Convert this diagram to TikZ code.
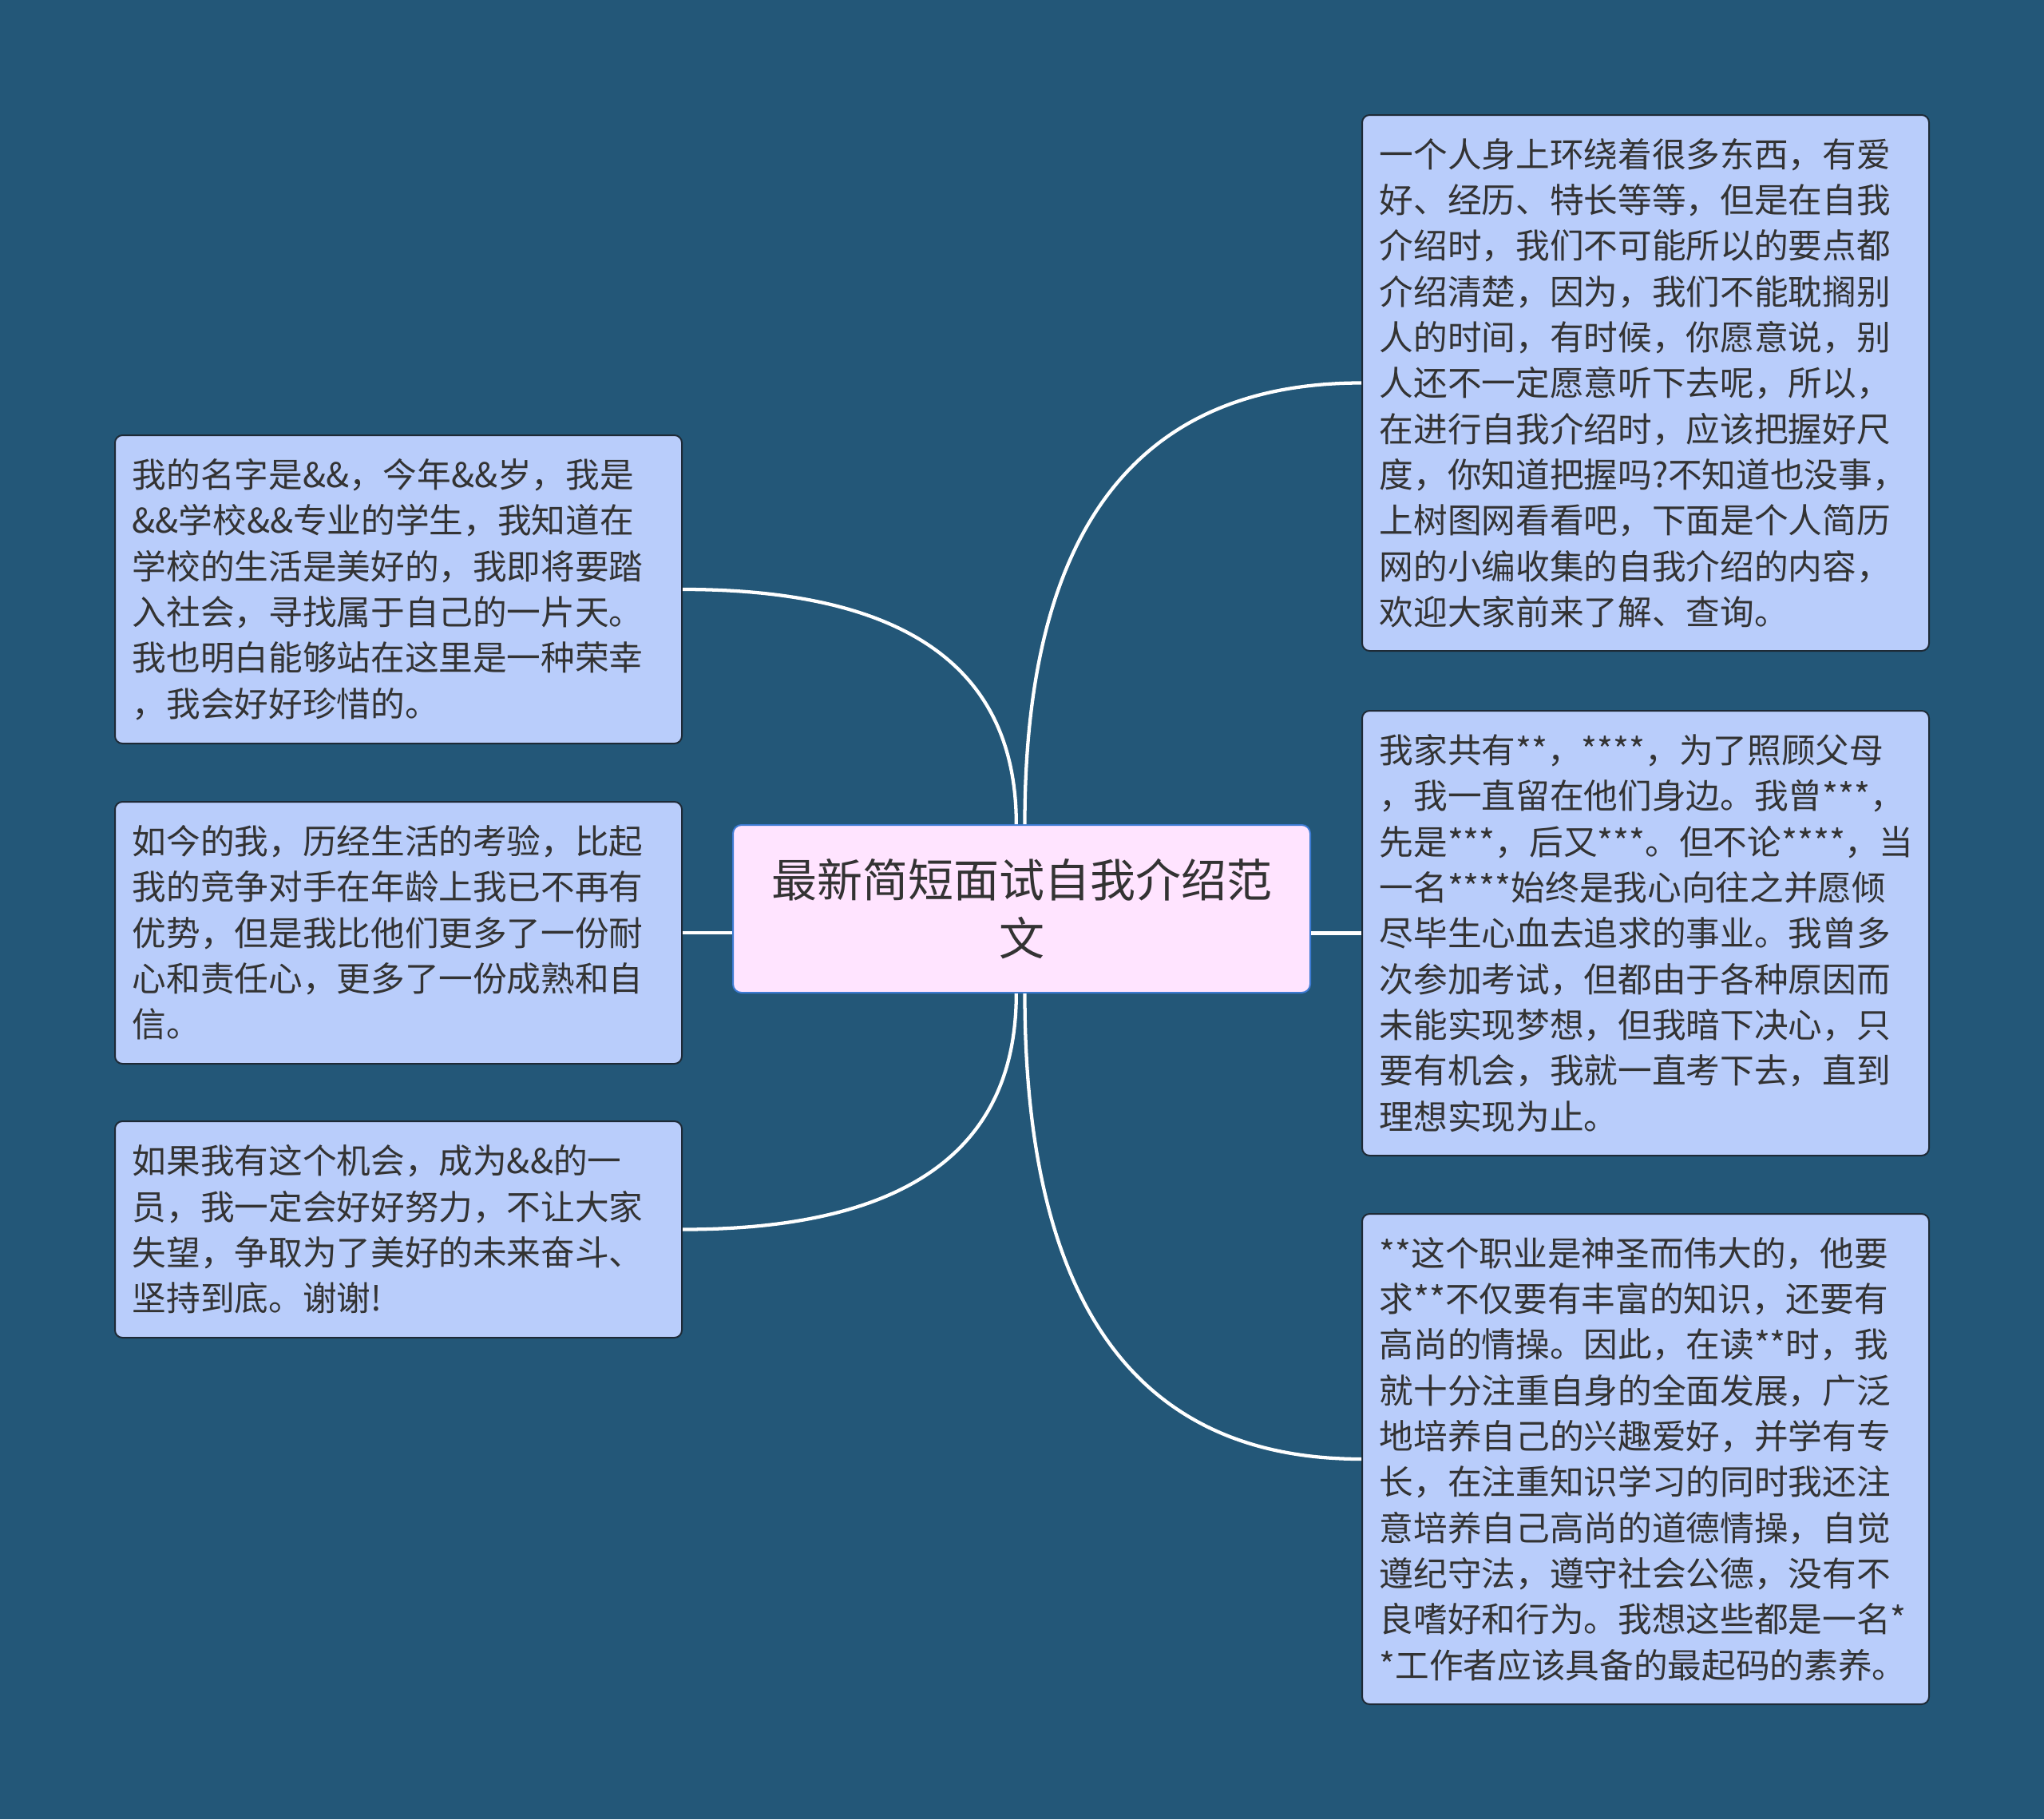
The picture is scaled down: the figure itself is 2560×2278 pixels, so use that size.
\documentclass[tikz,border=0pt]{standalone}
\usepackage{fontspec}
\usetikzlibrary{calc}
\setmainfont{Noto Sans CJK SC}
\definecolor{bg}{HTML}{235778}
\definecolor{boxfill}{HTML}{B9CDFB}
\definecolor{boxline}{HTML}{1E2A36}
\definecolor{ctrfill}{HTML}{FFE4FF}
\definecolor{ctrline}{HTML}{3C7AD2}
\definecolor{txt}{HTML}{333333}
\tikzset{
  leaf/.style={draw=boxline, line width=1.5pt, fill=boxfill, rounded corners=7pt,
    minimum width=532.5pt, text width=500pt, inner xsep=16pt, inner ysep=0pt,
    align=left, text=txt, font=\fontsize{32pt}{43pt}\selectfont},
  centre/.style={draw=ctrline, line width=1.5pt, fill=ctrfill, rounded corners=8pt,
    minimum width=542.25pt, minimum height=157.5pt, text width=520pt, align=center,
    text=txt, font=\fontsize{42.75pt}{55pt}\selectfont},
  conn/.style={draw=white, line width=3.2pt}
}
\begin{document}
\begin{tikzpicture}[x=0.75pt,y=-0.75pt]
\fill[bg] (0,0) rectangle (2560,2278);
\useasboundingbox (0,0) rectangle (2560,2278);

\node[centre] (c) at (1279.5,1138) {最新简短面试自我介绍范\\文};

\node[leaf, minimum height=289.5pt] (L1) at (499,738) {我的名字是\&\&，今年\&\&岁，我是\\\&\&学校\&\&专业的学生，我知道在\\学校的生活是美好的，我即将要踏\\入社会，寻找属于自己的一片天。\\我也明白能够站在这里是一种荣幸\\，我会好好珍惜的。};
\node[leaf, minimum height=246pt] (L2) at (499,1168) {如今的我，历经生活的考验，比起\\我的竞争对手在年龄上我已不再有\\优势，但是我比他们更多了一份耐\\心和责任心，更多了一份成熟和自\\信。};
\node[leaf, minimum height=203.25pt] (L3) at (499,1539.5) {如果我有这个机会，成为\&\&的一\\员，我一定会好好努力，不让大家\\失望，争取为了美好的未来奋斗、\\坚持到底。谢谢!};

\node[leaf, minimum height=503.25pt] (R1) at (2061,479.5) {一个人身上环绕着很多东西，有爱\\好、经历、特长等等，但是在自我\\介绍时，我们不可能所以的要点都\\介绍清楚，因为，我们不能耽搁别\\人的时间，有时候，你愿意说，别\\人还不一定愿意听下去呢，所以，\\在进行自我介绍时，应该把握好尺\\度，你知道把握吗?不知道也没事，\\上树图网看看吧，下面是个人简历\\网的小编收集的自我介绍的内容，\\欢迎大家前来了解、查询。};
\node[leaf, minimum height=417.75pt] (R2) at (2061,1168.5) {我家共有**，****，为了照顾父母\\，我一直留在他们身边。我曾***，\\先是***，后又***。但不论****，当\\一名****始终是我心向往之并愿倾\\尽毕生心血去追求的事业。我曾多\\次参加考试，但都由于各种原因而\\未能实现梦想，但我暗下决心，只\\要有机会，我就一直考下去，直到\\理想实现为止。};
\node[leaf, minimum height=460.5pt] (R3) at (2061,1827) {**这个职业是神圣而伟大的，他要\\求**不仅要有丰富的知识，还要有\\高尚的情操。因此，在读**时，我\\就十分注重自身的全面发展，广泛\\地培养自己的兴趣爱好，并学有专\\长，在注重知识学习的同时我还注\\意培养自己高尚的道德情操，自觉\\遵纪守法，遵守社会公德，没有不\\良嗜好和行为。我想这些都是一名*\\{}*工作者应该具备的最起码的素养。};

\coordinate (ctl) at ([xshift=-5pt]c.north);
\coordinate (ctr) at ([xshift=3pt]c.north);
\coordinate (cbl) at ([xshift=-5pt]c.south);
\coordinate (cbr) at ([xshift=3pt]c.south);

\draw[conn] (ctl) .. controls ($(ctl)!0.667!(ctl |- L1.east)$) and ($(L1.east)!0.667!(ctl |- L1.east)$) .. (L1.east);
\draw[conn] (cbl) .. controls ($(cbl)!0.667!(cbl |- L3.east)$) and ($(L3.east)!0.667!(cbl |- L3.east)$) .. (L3.east);
\draw[conn] (L2.east) -- (c.west |- L2.east);
\draw[conn] (ctr) .. controls ($(ctr)!0.667!(ctr |- R1.west)$) and ($(R1.west)!0.667!(ctr |- R1.west)$) .. (R1.west);
\draw[conn] (cbr) .. controls ($(cbr)!0.667!(cbr |- R3.west)$) and ($(R3.west)!0.667!(cbr |- R3.west)$) .. (R3.west);
\draw[conn] (R2.west) -- (c.east |- R2.west);
\end{tikzpicture}
\end{document}
